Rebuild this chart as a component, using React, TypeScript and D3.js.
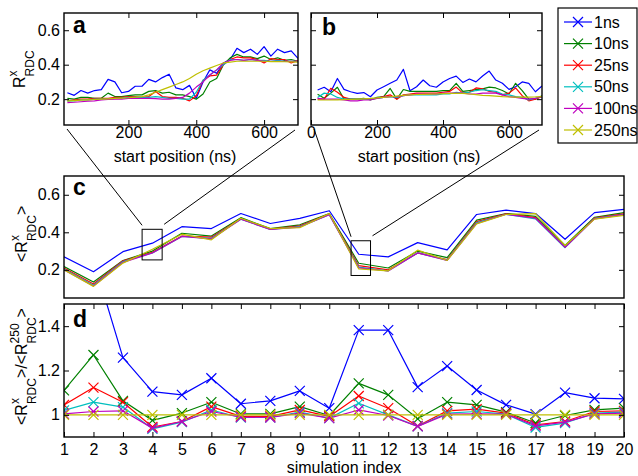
import React, { useEffect, useRef } from 'react';
import * as d3 from 'd3';

const seriesNames = ['1ns', '10ns', '25ns', '50ns', '100ns', '250ns'];
const seriesColors = ['#0000ff', '#008000', '#ff0000', '#00bfbf', '#bf00bf', '#bfbf00'];

// start positions (ns) for the zoom panels a and b
const startPos = [20, 40, 60, 80, 100, 120, 140, 160, 180, 200, 220, 240, 260, 280, 300, 320, 340, 360,
  380, 400, 420, 440, 460, 480, 500, 520, 540, 560, 580, 600, 620, 640, 660, 680, 700];

const panelA = [
  [0.237, 0.222, 0.25, 0.235, 0.25, 0.255, 0.315, 0.30, 0.237, 0.245, 0.275, 0.275, 0.315, 0.30, 0.325, 0.345, 0.265, 0.255,
    0.28, 0.205, 0.30, 0.37, 0.35, 0.41, 0.43, 0.495, 0.47, 0.49, 0.46, 0.505, 0.45, 0.49, 0.47, 0.48, 0.437],
  [0.205, 0.20, 0.21, 0.21, 0.205, 0.205, 0.235, 0.215, 0.215, 0.22, 0.225, 0.225, 0.245, 0.25, 0.235, 0.24, 0.225, 0.225,
    0.215, 0.20, 0.23, 0.30, 0.32, 0.40, 0.44, 0.46, 0.445, 0.445, 0.435, 0.45, 0.43, 0.44, 0.425, 0.43, 0.42],
  [0.19, 0.195, 0.20, 0.20, 0.205, 0.205, 0.205, 0.21, 0.21, 0.215, 0.215, 0.21, 0.215, 0.245, 0.215, 0.21, 0.21, 0.205,
    0.19, 0.22, 0.31, 0.335, 0.34, 0.40, 0.43, 0.445, 0.44, 0.44, 0.43, 0.41, 0.435, 0.43, 0.43, 0.41, 0.425],
  [0.19, 0.19, 0.195, 0.195, 0.20, 0.20, 0.20, 0.205, 0.205, 0.21, 0.21, 0.21, 0.21, 0.215, 0.21, 0.205, 0.205, 0.20,
    0.20, 0.24, 0.31, 0.34, 0.37, 0.40, 0.43, 0.43, 0.425, 0.43, 0.425, 0.425, 0.42, 0.425, 0.42, 0.42, 0.42],
  [0.18, 0.182, 0.185, 0.188, 0.19, 0.195, 0.198, 0.20, 0.20, 0.205, 0.205, 0.205, 0.205, 0.203, 0.20, 0.20, 0.205, 0.21,
    0.235, 0.27, 0.30, 0.34, 0.37, 0.41, 0.425, 0.43, 0.425, 0.43, 0.425, 0.42, 0.42, 0.42, 0.42, 0.42, 0.42],
  [0.19, 0.192, 0.194, 0.196, 0.198, 0.20, 0.202, 0.204, 0.206, 0.208, 0.212, 0.215, 0.225, 0.24, 0.255, 0.27, 0.285, 0.30,
    0.32, 0.345, 0.365, 0.38, 0.395, 0.41, 0.415, 0.42, 0.42, 0.42, 0.42, 0.42, 0.418, 0.418, 0.417, 0.416, 0.415],
];

const panelB = [
  [0.253, 0.269, 0.243, 0.32, 0.257, 0.243, 0.234, 0.238, 0.214, 0.253, 0.272, 0.292, 0.311, 0.373, 0.249, 0.272, 0.311, 0.278,
    0.269, 0.30, 0.32, 0.334, 0.297, 0.317, 0.30, 0.334, 0.363, 0.311, 0.292, 0.257, 0.272, 0.30, 0.292, 0.243, 0.276],
  [0.228, 0.205, 0.235, 0.269, 0.20, 0.20, 0.20, 0.205, 0.195, 0.21, 0.215, 0.262, 0.20, 0.256, 0.245, 0.245, 0.245, 0.245,
    0.245, 0.25, 0.25, 0.292, 0.245, 0.25, 0.255, 0.26, 0.27, 0.265, 0.25, 0.23, 0.292, 0.25, 0.20, 0.20, 0.22],
  [0.20, 0.20, 0.263, 0.24, 0.21, 0.20, 0.20, 0.20, 0.20, 0.205, 0.215, 0.225, 0.20, 0.225, 0.23, 0.235, 0.235, 0.235,
    0.235, 0.24, 0.245, 0.27, 0.235, 0.24, 0.265, 0.26, 0.245, 0.24, 0.225, 0.235, 0.265, 0.22, 0.19, 0.20, 0.215],
  [0.21, 0.235, 0.23, 0.21, 0.20, 0.20, 0.20, 0.20, 0.20, 0.205, 0.21, 0.215, 0.21, 0.22, 0.225, 0.225, 0.225, 0.225,
    0.225, 0.23, 0.23, 0.24, 0.235, 0.24, 0.25, 0.255, 0.25, 0.245, 0.23, 0.225, 0.215, 0.21, 0.195, 0.205, 0.215],
  [0.205, 0.20, 0.20, 0.20, 0.195, 0.19, 0.19, 0.195, 0.195, 0.205, 0.21, 0.215, 0.215, 0.22, 0.225, 0.23, 0.23, 0.23,
    0.23, 0.235, 0.235, 0.235, 0.235, 0.23, 0.23, 0.235, 0.235, 0.235, 0.225, 0.215, 0.21, 0.205, 0.20, 0.205, 0.215],
  [0.195, 0.195, 0.195, 0.196, 0.197, 0.198, 0.20, 0.202, 0.204, 0.207, 0.21, 0.214, 0.218, 0.222, 0.225, 0.227, 0.228, 0.229,
    0.23, 0.232, 0.233, 0.234, 0.233, 0.23, 0.226, 0.222, 0.22, 0.218, 0.215, 0.213, 0.212, 0.212, 0.212, 0.213, 0.215],
];

const simIndex = [1, 2, 3, 4, 5, 6, 7, 8, 9, 10, 11, 12, 13, 14, 15, 16, 17, 18, 19, 20];

const panelC = [
  [0.27, 0.19, 0.297, 0.342, 0.43, 0.42, 0.50, 0.447, 0.474, 0.515, 0.283, 0.269, 0.345, 0.306, 0.495, 0.518, 0.50, 0.363, 0.505, 0.522],
  [0.218, 0.135, 0.25, 0.30, 0.395, 0.38, 0.478, 0.42, 0.44, 0.50, 0.235, 0.21, 0.30, 0.265, 0.465, 0.50, 0.485, 0.33, 0.48, 0.505],
  [0.21, 0.125, 0.248, 0.293, 0.38, 0.374, 0.472, 0.417, 0.434, 0.497, 0.222, 0.20, 0.29, 0.255, 0.457, 0.498, 0.478, 0.32, 0.477, 0.498],
  [0.205, 0.118, 0.244, 0.29, 0.378, 0.368, 0.47, 0.415, 0.43, 0.494, 0.215, 0.195, 0.29, 0.252, 0.452, 0.496, 0.472, 0.318, 0.474, 0.495],
  [0.20, 0.114, 0.24, 0.29, 0.378, 0.365, 0.47, 0.415, 0.428, 0.494, 0.21, 0.194, 0.29, 0.25, 0.447, 0.496, 0.475, 0.32, 0.472, 0.494],
  [0.20, 0.112, 0.236, 0.31, 0.39, 0.36, 0.475, 0.42, 0.425, 0.50, 0.205, 0.195, 0.305, 0.25, 0.445, 0.495, 0.50, 0.33, 0.47, 0.49],
];

const panelD = [
  [1.62, 1.70, 1.258, 1.105, 1.09, 1.165, 1.05, 1.063, 1.108, 1.03, 1.382, 1.382, 1.125, 1.22, 1.112, 1.045, 1.003, 1.10, 1.075, 1.072],
  [1.11, 1.27, 1.063, 0.975, 1.008, 1.057, 1.004, 1.004, 1.037, 0.997, 1.142, 1.09, 0.982, 1.057, 1.045, 1.012, 0.963, 0.997, 1.022, 1.03],
  [1.045, 1.123, 1.057, 0.945, 0.97, 1.037, 0.993, 0.993, 1.022, 0.993, 1.085, 1.03, 0.95, 1.018, 1.026, 1.008, 0.955, 0.97, 1.015, 1.018],
  [1.02, 1.057, 1.035, 0.937, 0.967, 1.022, 0.988, 0.988, 1.012, 0.985, 1.052, 1.0, 0.948, 1.008, 1.015, 1.003, 0.943, 0.963, 1.008, 1.012],
  [1.004, 1.015, 1.018, 0.94, 0.97, 1.015, 0.99, 0.988, 1.008, 0.985, 1.022, 0.997, 0.948, 1.003, 1.004, 1.003, 0.95, 0.967, 1.004, 1.008],
  [1, 1, 1, 1, 1, 1, 1, 1, 1, 1, 1, 1, 1, 1, 1, 1, 1, 1, 1, 1],
];

// zoomed windows shown in panel c (sim index range, value range)
const zoomWindows = [
  { i0: 3.65, i1: 4.33, lo: 0.253, hi: 0.416 },
  { i0: 10.74, i1: 11.4, lo: 0.17, hi: 0.355 },
];

const FONT = "'Liberation Sans', Arial, Helvetica, sans-serif";

const App = () => {
  const svgRef = useRef<SVGSVGElement>(null);

  useEffect(() => {
    const svg = d3.select(svgRef.current);
    svg.selectAll('*').remove();

    const xA = d3.scaleLinear().domain([10, 700]).range([64, 298]);
    const xB = d3.scaleLinear().domain([0, 700]).range([311, 542]);
    const yAB = d3.scaleLinear().domain([0.05, 0.7]).range([125, 13]);
    const xCD = d3.scaleLinear().domain([1, 20]).range([64, 624]);
    const yC = d3.scaleLinear().domain([0.05, 0.7]).range([298, 176]);
    const yD = d3.scaleLinear().domain([0.9, 1.5]).range([437, 304]);

    let clipId = 0;

    const frame = (x, y, xTicks, yTicks, showX, xPad, yFmt) => {
      const [x0, x1] = x.range();
      const [yb, yt] = y.range();
      const g = svg.append('g');
      const style = (sel) => {
        sel.select('.domain').remove();
        sel.selectAll('line').attr('stroke', '#000').attr('stroke-width', 1);
        sel.selectAll('text').attr('font-size', 16).attr('font-family', FONT).attr('fill', '#000');
      };
      g.append('g').attr('transform', `translate(0,${yb})`)
        .call(d3.axisBottom(x).tickValues(xTicks).tickSizeInner(-5).tickSizeOuter(0).tickPadding(xPad)
          .tickFormat(showX ? d3.format('d') : () => ''))
        .call(style);
      g.append('g').attr('transform', `translate(0,${yt})`)
        .call(d3.axisTop(x).tickValues(xTicks).tickSizeInner(-5).tickSizeOuter(0).tickFormat(() => ''))
        .call(style);
      g.append('g').attr('transform', `translate(${x0},0)`)
        .call(d3.axisLeft(y).tickValues(yTicks).tickSizeInner(-5).tickSizeOuter(0).tickPadding(4).tickFormat(yFmt))
        .call(style);
      g.append('g').attr('transform', `translate(${x1},0)`)
        .call(d3.axisRight(y).tickValues(yTicks).tickSizeInner(-5).tickSizeOuter(0).tickFormat(() => ''))
        .call(style);
      g.append('rect').attr('x', x0).attr('y', yt).attr('width', x1 - x0).attr('height', yb - yt)
        .attr('fill', 'none').attr('stroke', '#000').attr('stroke-width', 1.4);
    };

    const plotLines = (x, y, xs, rows, markers) => {
      const [x0, x1] = x.range();
      const [yb, yt] = y.range();
      const id = `clip${clipId++}`;
      svg.append('clipPath').attr('id', id).append('rect')
        .attr('x', x0).attr('y', yt).attr('width', x1 - x0).attr('height', yb - yt);
      const g = svg.append('g').attr('clip-path', `url(#${id})`);
      const line = d3.line<number>().x((d, i) => x(xs[i])).y(d => y(d));
      rows.forEach((row, k) => {
        g.append('path').attr('d', line(row)).attr('fill', 'none')
          .attr('stroke', seriesColors[k]).attr('stroke-width', 1.2).attr('stroke-linejoin', 'round');
        if (markers) {
          g.selectAll(null).data(row).enter().append('path')
            .attr('transform', (d, i) => `translate(${x(xs[i])},${y(d)})`)
            .attr('d', 'M-5,-5L5,5M-5,5L5,-5')
            .attr('stroke', seriesColors[k]).attr('stroke-width', 1.2);
        }
      });
    };

    const fmt1 = (d) => (d === 1 ? '1' : d3.format('.1f')(d));

    // panels a & b
    plotLines(xA, yAB, startPos, panelA, false);
    frame(xA, yAB, [200, 400, 600], [0.2, 0.4, 0.6], true, 2, d3.format('.1f'));
    plotLines(xB, yAB, startPos, panelB, false);
    frame(xB, yAB, [0, 200, 400, 600], [0.2, 0.4, 0.6], true, 2, () => '');

    // panel c
    plotLines(xCD, yC, simIndex, panelC, false);
    frame(xCD, yC, [], [0.2, 0.4, 0.6], false, 2, d3.format('.1f'));

    // panel d
    plotLines(xCD, yD, simIndex, panelD, true);
    frame(xCD, yD, simIndex, [1, 1.2, 1.4], true, 7, fmt1);

    // zoom windows and connectors
    const panels = [xA, xB];
    zoomWindows.forEach((w, k) => {
      const rx0 = xCD(w.i0), rx1 = xCD(w.i1), ry0 = yC(w.hi), ry1 = yC(w.lo);
      svg.append('rect').attr('x', rx0).attr('y', ry0).attr('width', rx1 - rx0).attr('height', ry1 - ry0)
        .attr('fill', 'none').attr('stroke', '#000').attr('stroke-width', 1);
      const [p0, p1] = panels[k].range();
      const yb = yAB.range()[0];
      svg.append('line').attr('x1', p0 + 3).attr('y1', yb + 4).attr('x2', rx0).attr('y2', ry0 - 4)
        .attr('stroke', '#000').attr('stroke-width', 1);
      svg.append('line').attr('x1', p1 - 3).attr('y1', yb + 5).attr('x2', rx1 + 2).attr('y2', ry0 - 5)
        .attr('stroke', '#000').attr('stroke-width', 1);
    });

    // panel letters
    const letters = [['a', 73, 33], ['b', 322, 35], ['c', 73, 195], ['d', 73, 327]];
    letters.forEach(([t, x, y]) => {
      svg.append('text').attr('x', x).attr('y', y).text(t)
        .attr('font-family', FONT).attr('font-weight', 'bold').attr('font-size', 23);
    });

    // x labels
    svg.append('text').attr('x', 175).attr('y', 162).attr('text-anchor', 'middle')
      .attr('font-family', FONT).attr('font-size', 16).text('start position (ns)');
    svg.append('text').attr('x', 419).attr('y', 162).attr('text-anchor', 'middle')
      .attr('font-family', FONT).attr('font-size', 16).text('start position (ns)');
    svg.append('text').attr('x', 344).attr('y', 473).attr('text-anchor', 'middle')
      .attr('font-family', FONT).attr('font-size', 16).text('simulation index');

    // y labels with stacked super/subscripts
    const yLabel = (x, y, parts) => {
      const t = svg.append('text').attr('transform', `translate(${x},${y}) rotate(-90)`)
        .attr('font-family', FONT).attr('font-size', 16);
      parts.forEach((p) => {
        const s = t.append('tspan').text(p.t);
        if (p.size) s.attr('font-size', p.size);
        if (p.dx) s.attr('dx', p.dx);
        if (p.dy) s.attr('dy', p.dy);
      });
    };
    yLabel(25, 88, [{ t: 'R' }, { t: 'x', size: 12, dy: -8 }, { t: 'RDC', size: 12, dx: -6, dy: 17 }]);
    yLabel(27, 262, [{ t: '<R' }, { t: 'x', size: 12, dy: -8 }, { t: 'RDC', size: 12, dx: -6, dy: 17 }, { t: '>', dy: -9 }]);
    yLabel(27, 425, [
      { t: '<R' }, { t: 'x', size: 12, dy: -8 }, { t: 'RDC', size: 12, dx: -6, dy: 17 }, { t: '>/<R', dy: -9 },
      { t: '250', size: 12, dy: -8 }, { t: 'RDC', size: 12, dx: -20, dy: 17 }, { t: '>', dy: -9 },
    ]);

    // legend
    const lg = svg.append('g');
    lg.append('rect').attr('x', 558).attr('y', 8).attr('width', 79).attr('height', 135)
      .attr('fill', '#fff').attr('stroke', '#000').attr('stroke-width', 1.2);
    const ly = d3.scalePoint().domain(seriesNames).range([22, 130]);
    seriesNames.forEach((n, k) => {
      const yy = ly(n);
      lg.append('line').attr('x1', 564).attr('x2', 592).attr('y1', yy).attr('y2', yy)
        .attr('stroke', seriesColors[k]).attr('stroke-width', 1.2);
      lg.append('path').attr('transform', `translate(578,${yy})`).attr('d', 'M-5,-5L5,5M-5,5L5,-5')
        .attr('stroke', seriesColors[k]).attr('stroke-width', 1.2);
      lg.append('text').attr('x', 594).attr('y', yy).attr('dy', '0.35em').text(n)
        .attr('font-family', FONT).attr('font-size', 16);
    });
  }, []);

  return (
    <svg ref={svgRef} width={638} height={476}
      style={{ position: 'absolute', left: 0, top: 0, background: '#fff' }} />
  );
};

export default App;
